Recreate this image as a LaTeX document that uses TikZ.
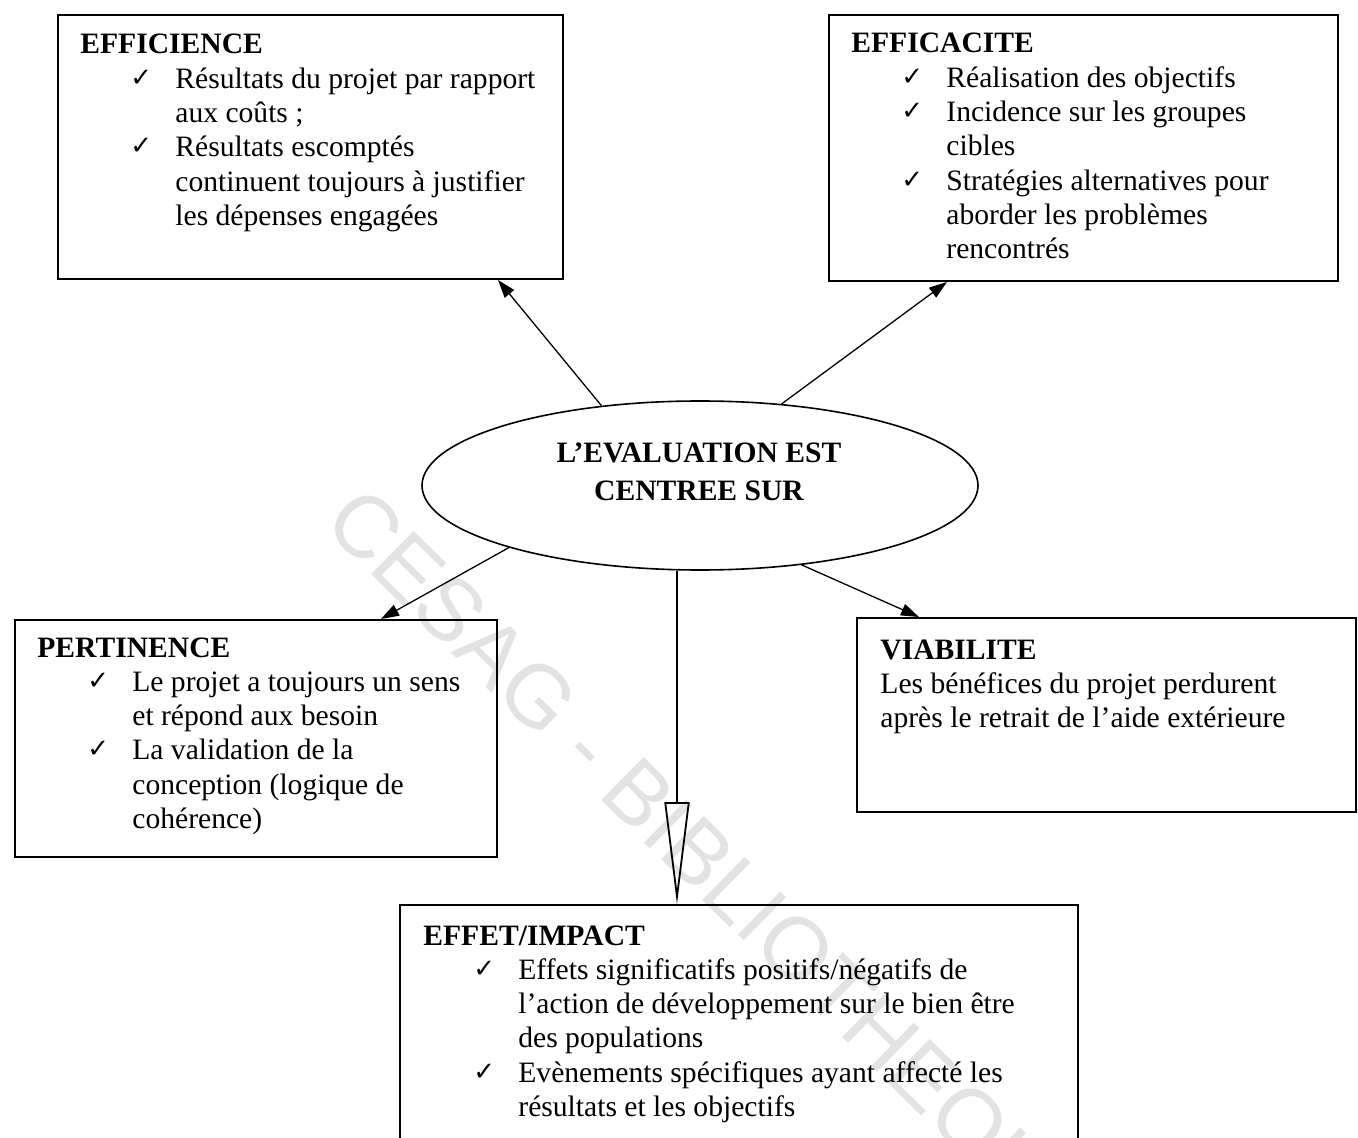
\documentclass[tikz,border=0pt]{standalone}
\usepackage{fontspec}
\setmainfont{Liberation Serif}
\newfontfamily\ckfont{DejaVu Sans}
\newfontfamily\wmfont{Liberation Sans}
\usetikzlibrary{shapes.geometric,arrows.meta,calc}

% bullet tick and continuation indent used in the box texts
\newcommand\ck{\hspace*{25pt}\makebox[22.5pt][l]{\raisebox{1pt}{\ckfont\fontsize{13}{13}\selectfont ✓}}}
\newcommand\ind{\hspace*{47.5pt}}
% a block of lines whose baseline is the baseline of its first line
\newcommand\boxtext[1]{\vtop{\hsize=340pt\parindent=0pt\parskip=0pt\fontsize{14.8}{17.15}\selectfont #1}}

\begin{document}
\begin{tikzpicture}[x=0.5pt,y=-0.5pt,
  box/.style={draw=black,line width=1pt,rectangle,inner sep=0pt},
  txt/.style={anchor=base west,inner sep=0pt},
  link/.style={draw=black,line width=0.65pt,-{Triangle[length=9pt,width=6pt]}},
  vlink/.style={draw=black,line width=0.65pt,-{Triangle[open,length=51pt,width=12.5pt,line width=0.9pt]}},
  wm/.style={text=gray!22,font=\wmfont\fontsize{44}{44}\selectfont,inner sep=0pt}]
\useasboundingbox (0,0) rectangle (1358,1138);
\clip (0,0) rectangle (1358,1138);
\fill[white] (0,0) rectangle (1358,1138);

% background stamp
\node[wm,rotate=-44.5,anchor=base west] (stamp) at (321,525) {CESAG - BIBLIOTHEQUE};

% frames
\node[box,minimum width=252.5pt,minimum height=132pt] (eff) at (310.5,147) {};
\node[box,minimum width=254.5pt,minimum height=133pt] (efc) at (1083.5,148) {};
\node[box,minimum width=241pt,minimum height=118.5pt] (per) at (256,738.5) {};
\node[box,minimum width=249.5pt,minimum height=97pt] (via) at (1106.5,715) {};
\node[box,minimum width=339pt,minimum height=127.5pt] (imp) at (739,1032.5) {};
\node[draw=black,line width=0.8pt,ellipse,inner sep=0pt,minimum width=278pt,minimum height=84.5pt] (ev) at (700,485.5) {};

% texts
\node[txt] (efftxt) at (80,54) {\boxtext{%
  \textbf{EFFICIENCE}\par
  \ck Résultats du projet par rapport\par
  \ind aux coûts ;\par
  \ck Résultats escomptés\par
  \ind continuent toujours à justifier\par
  \ind les dépenses engagées\par}};
\node[txt] (efctxt) at (851,53) {\boxtext{%
  \textbf{EFFICACITE}\par
  \ck Réalisation des objectifs\par
  \ck Incidence sur les groupes\par
  \ind cibles\par
  \ck Stratégies alternatives pour\par
  \ind aborder les problèmes\par
  \ind rencontrés\par}};
\node[txt] (pertxt) at (37,657) {\boxtext{%
  \textbf{PERTINENCE}\par
  \ck Le projet a toujours un sens\par
  \ind et répond aux besoin\par
  \ck La validation de la\par
  \ind conception (logique de\par
  \ind cohérence)\par}};
\node[txt] (viatxt) at (880,659) {\boxtext{%
  \textbf{VIABILITE}\par
  Les bénéfices du projet perdurent\par
  après le retrait de l’aide extérieure\par}};
\node[txt] (imptxt) at (423,945) {\boxtext{%
  \textbf{EFFET/IMPACT}\par
  \ck Effets significatifs positifs/négatifs de\par
  \ind l’action de développement sur le bien être\par
  \ind des populations\par
  \ck Evènements spécifiques ayant affecté les\par
  \ind résultats et les objectifs\par}};
\node[anchor=base,inner sep=0pt] (evtxt) at (699,462) {\vtop{\hsize=220pt\parindent=0pt\parskip=0pt\centering
  \fontsize{14.8}{19}\selectfont\bfseries L’EVALUATION EST\par CENTREE SUR\par}};

% connectors
\coordinate (axis) at (677,0);
\draw[link] (ev.141.6) -- ($(eff.south east)+(-66,0)$);
\draw[link] (ev.45.8) -- ($(efc.south west)+(119,0)$);
\draw[link] (ev.198.4) -- ($(per.north east)+(-117,0)$);
\draw[link] (ev.-38) -- ($(via.north west)+(63,0)$);
\draw[vlink] (ev.south -| axis) -- (imp.north -| axis);
\end{tikzpicture}
\end{document}
